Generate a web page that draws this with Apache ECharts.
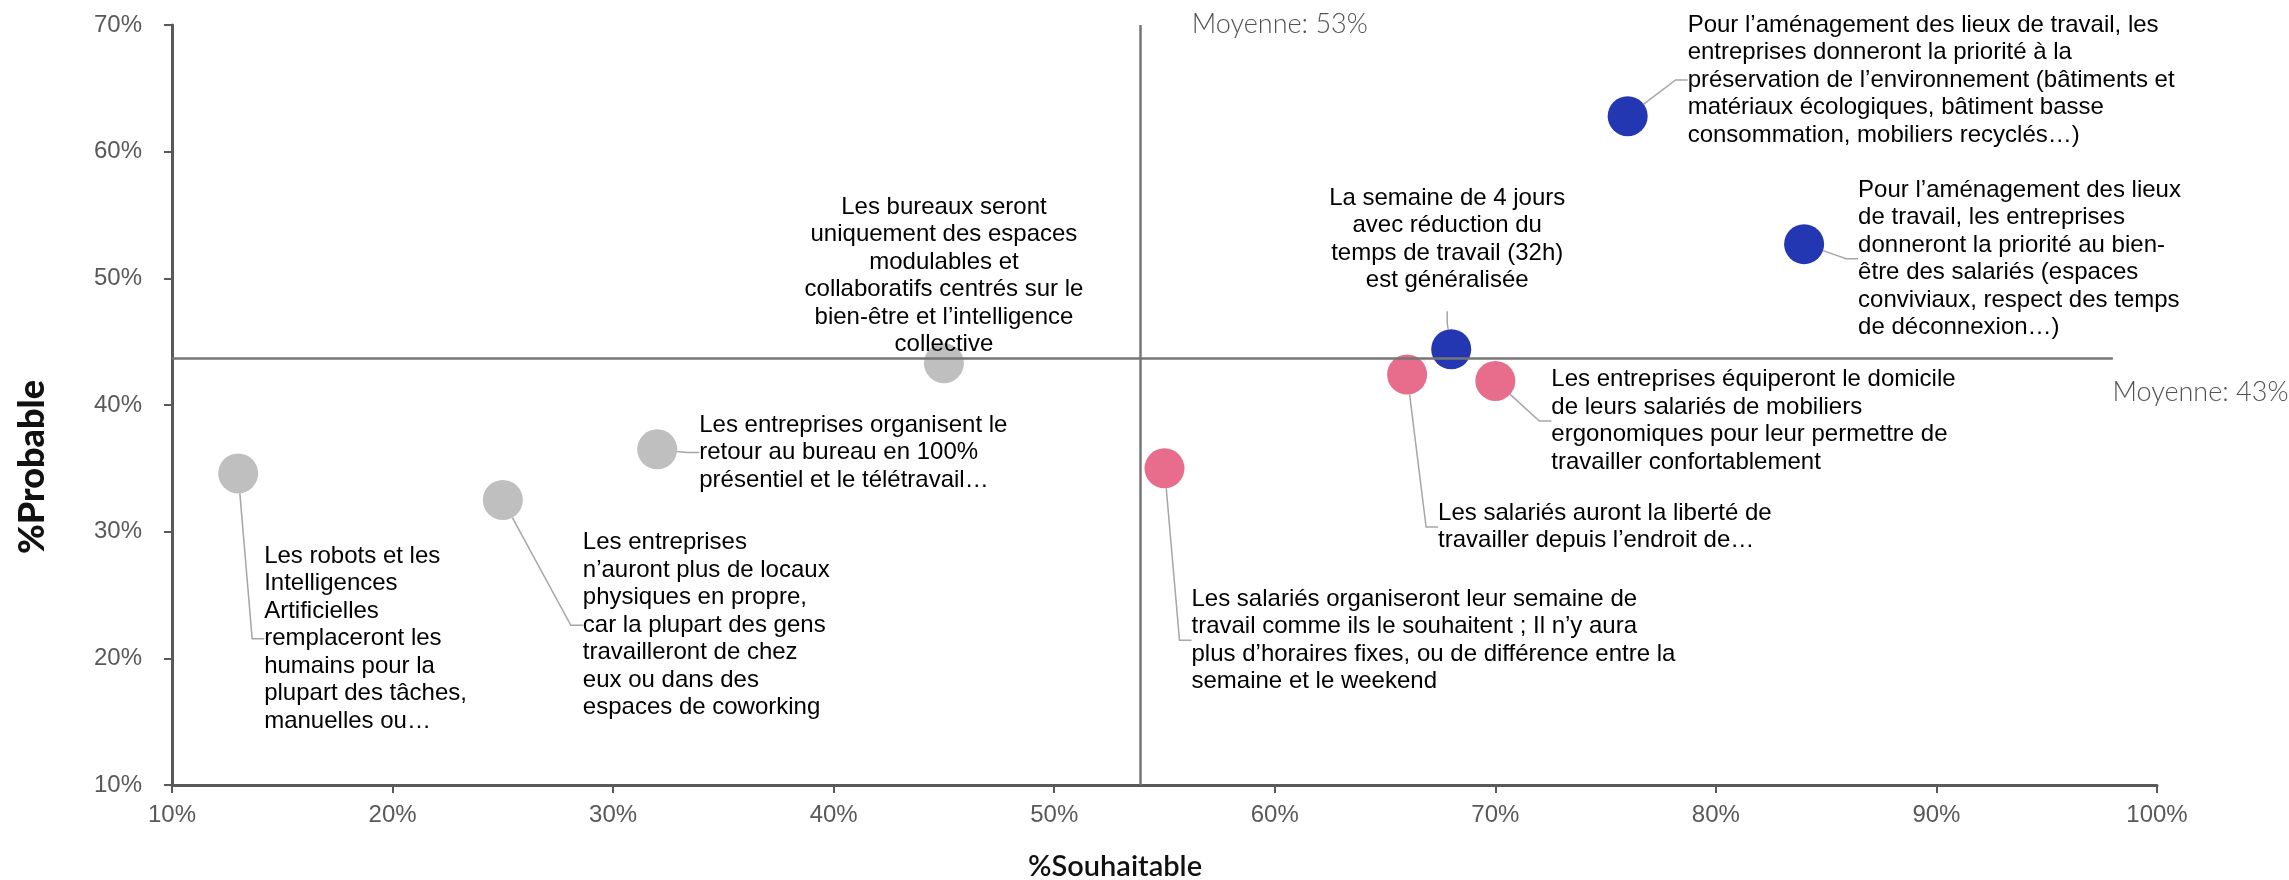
<!DOCTYPE html>
<html>
<head>
<meta charset="utf-8">
<script src="https://cdn.jsdelivr.net/npm/echarts@6/dist/echarts.min.js"></script>
<style>
  html, body { margin: 0; padding: 0; background: #ffffff; }
  #chart { width: 2289px; height: 880px; }
</style>
</head>
<body>
<div id="chart"></div>
<script>
  // données
  const themes = [
    'Les robots et les\nIntelligences\nArtificielles\nremplaceront les\nhumains pour la\nplupart des tâches,\nmanuelles ou…',
    'Les entreprises\nn’auront plus de locaux\nphysiques en propre,\ncar la plupart des gens\ntravailleront de chez\neux ou dans des\nespaces de coworking',
    'Les entreprises organisent le\nretour au bureau en 100%\nprésentiel et le télétravail…',
    'Les bureaux seront\nuniquement des espaces\nmodulables et\ncollaboratifs centrés sur le\nbien-être et l’intelligence\ncollective',
    'Les salariés organiseront leur semaine de\ntravail comme ils le souhaitent ; Il n’y aura\nplus d’horaires fixes, ou de différence entre la\nsemaine et le weekend',
    'Les salariés auront la liberté de\ntravailler depuis l’endroit de…',
    'Les entreprises équiperont le domicile\nde leurs salariés de mobiliers\nergonomiques pour leur permettre de\ntravailler confortablement',
    'La semaine de 4 jours\navec réduction du\ntemps de travail (32h)\nest généralisée',
    'Pour l’aménagement des lieux de travail, les\nentreprises donneront la priorité à la\npréservation de l’environnement (bâtiments et\nmatériaux écologiques, bâtiment basse\nconsommation, mobiliers recyclés…)',
    'Pour l’aménagement des lieux\nde travail, les entreprises\ndonneront la priorité au bien-\nêtre des salariés (espaces\nconviviaux, respect des temps\nde déconnexion…)'
  ];
  const souhaitable = [13, 25, 32, 45, 55, 66, 70, 68, 76, 84];
  const probable = [34.6, 32.5, 36.5, 43.3, 35.0, 42.4, 41.9, 44.4, 62.8, 52.7];
  const groupes = ['gris', 'gris', 'gris', 'gris', 'rose', 'rose', 'rose', 'bleu', 'bleu', 'bleu'];

  const moyenneSouhaitable = 53.9;
  const moyenneProbable = 43.7;
  const finLigneProbable = 98;
  const moyenneLabels = ['Moyenne: 53%', 'Moyenne: 43%'];

  const xBornes = [10, 100];
  const yBornes = [10, 70];
  const pas = 10;

  const couleurs = {
    gris: '#BFBFBF',
    rose: '#E86D8D',
    bleu: '#2437B2'
  };

  // placement des étiquettes (décalage en px depuis le centre du point)
  // padRight : élargit la boîte pour que le trait rejoigne le côté gauche
  const placements = [
    { align: 'left', va: 'top', dx: 26, dy: 69, padRight: 220 },
    { align: 'left', va: 'top', dx: 80, dy: 29 },
    { align: 'left', va: 'top', dx: 42, dy: -38 },
    { align: 'center', va: 'bottom', dx: 0, dy: -5, noLine: true },
    { align: 'left', va: 'top', dx: 27, dy: 117 },
    { align: 'left', va: 'top', dx: 31, dy: 125 },
    { align: 'left', va: 'top', dx: 56, dy: -15 },
    { align: 'center', va: 'bottom', dx: -4, dy: -38, padBottom: 17 },
    { align: 'left', va: 'top', dx: 60, dy: -105 },
    { align: 'left', va: 'top', dx: 54, dy: -68 }
  ];

  const chart = echarts.init(document.getElementById('chart'), null, { renderer: 'canvas' });

  const points = themes.map((t, i) => {
    const p = placements[i];
    return {
      name: t,
      value: [souhaitable[i], probable[i]],
      itemStyle: { color: couleurs[groupes[i]], opacity: 1 },
      label: {
        align: p.align,
        verticalAlign: p.va,
        padding: [0, p.padRight || 0, p.padBottom || 0, 0]
      },
      labelLine: { show: !p.noLine }
    };
  });

  const axisCommon = {
    type: 'value',
    interval: pas,
    axisLine: { show: true, lineStyle: { color: '#595959', width: 3 } },
    axisTick: { show: true, length: 8, lineStyle: { color: '#595959', width: 2 } },
    splitLine: { show: false },
    axisLabel: {
      formatter: '{value}%',
      color: '#595959',
      fontFamily: 'Liberation Sans, Arial, sans-serif',
      fontSize: 24
    }
  };

  const option = {
    backgroundColor: '#ffffff',
    animation: false,
    grid: { left: 172, right: 132, top: 25, bottom: 95, outerBoundsMode: 'none', containLabel: false },
    xAxis: Object.assign({}, axisCommon, {
      min: xBornes[0],
      max: xBornes[1],
      name: '%Souhaitable',
      nameLocation: 'middle',
      nameGap: 67,
      nameTextStyle: {
        fontFamily: 'Lato, sans-serif',
        fontSize: 29,
        fontWeight: 600,
        color: '#111111',
        padding: [0, 99, 0, 0]
      },
      axisLabel: Object.assign({}, axisCommon.axisLabel, { margin: 18 })
    }),
    yAxis: Object.assign({}, axisCommon, {
      min: yBornes[0],
      max: yBornes[1],
      name: '%Probable',
      nameLocation: 'middle',
      nameGap: 122,
      nameTextStyle: {
        fontFamily: 'Lato, sans-serif',
        fontSize: 36,
        fontWeight: 900,
        color: '#111111',
        padding: [0, 124, 0, 0]
      },
      axisLabel: Object.assign({}, axisCommon.axisLabel, { margin: 30 })
    }),
    series: [
      {
        type: 'scatter',
        symbol: 'circle',
        symbolSize: 40,
        clip: false,
        data: points,
        label: {
          show: true,
          position: 'inside',
          formatter: '{b}',
          color: '#000000',
          fontFamily: 'Liberation Sans, Arial, sans-serif',
          fontSize: 24,
          lineHeight: 27.5
        },
        labelLine: {
          show: true,
          showAbove: true,
          length2: 12,
          lineStyle: { color: '#A6A6A6', width: 1.5 }
        },
        labelLayout: function (params) {
          const p = placements[params.dataIndex];
          return { dx: p.dx, dy: p.dy };
        },
        markLine: {
          silent: true,
          symbol: 'none',
          label: { show: false },
          lineStyle: { color: '#767676', width: 2.5, type: 'solid' },
          data: [
            [{ coord: [moyenneSouhaitable, yBornes[0]] }, { coord: [moyenneSouhaitable, yBornes[1]] }],
            [{ coord: [xBornes[0], moyenneProbable] }, { coord: [finLigneProbable, moyenneProbable] }]
          ]
        }
      },
      {
        // étiquettes des moyennes
        type: 'scatter',
        symbol: 'circle',
        symbolSize: 1,
        clip: false,
        silent: true,
        itemStyle: { color: 'rgba(0,0,0,0)' },
        data: [
          { value: [moyenneSouhaitable, yBornes[1]], label: { position: [52, -14] } },
          { value: [finLigneProbable, moyenneProbable], label: { position: [0, 21] } }
        ],
        label: {
          show: true,
          formatter: function (p) { return moyenneLabels[p.dataIndex]; },
          color: '#262626',
          fontFamily: 'Lato, sans-serif',
          fontWeight: 300,
          fontSize: 27
        }
      }
    ]
  };

  chart.setOption(option);
  window.addEventListener('resize', function () { chart.resize(); });
</script>
</body>
</html>
